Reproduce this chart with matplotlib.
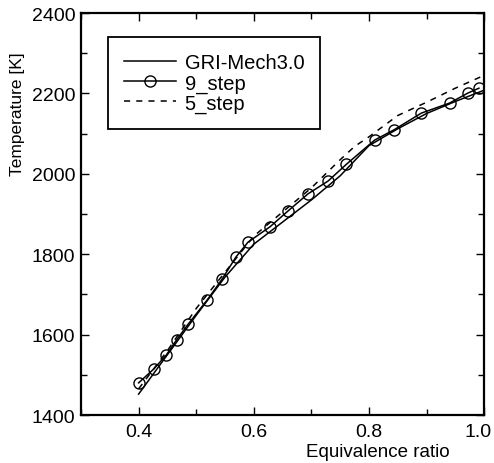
import matplotlib
matplotlib.use("Agg")
import matplotlib.pyplot as plt
from matplotlib.ticker import MultipleLocator
import matplotlib.transforms as mtransforms

plt.rcParams['font.family'] = ['Liberation Sans', 'DejaVu Sans']

# GRI-Mech3.0 (solid line)
phi_gri = [0.40, 0.45, 0.50, 0.55, 0.60, 0.65, 0.70, 0.75, 0.80, 0.85, 0.90, 0.95, 1.00]
T_gri = [1452, 1550, 1648, 1743, 1825, 1880, 1935, 1995, 2070, 2112, 2150, 2180, 2208]

# 9_step (solid line with open circles)
phi_9 = [0.400, 0.426, 0.448, 0.466, 0.486, 0.519, 0.545, 0.569, 0.590, 0.628,
         0.659, 0.694, 0.729, 0.761, 0.810, 0.843, 0.891, 0.940, 0.972, 0.991]
T_9 = [1480, 1514, 1549, 1587, 1626, 1686, 1738, 1793, 1830, 1868,
       1907, 1950, 1982, 2024, 2084, 2109, 2151, 2176, 2201, 2213]

# 5_step (dashed line)
phi_5 = [0.40, 0.45, 0.50, 0.55, 0.60, 0.65, 0.70, 0.75, 0.775, 0.80, 0.85, 0.90, 0.95, 1.00]
T_5 = [1465, 1560, 1665, 1755, 1845, 1905, 1965, 2035, 2068, 2092, 2145, 2178, 2213, 2245]

fig = plt.figure(figsize=(4.94, 4.64), dpi=100)
ax = fig.add_axes([0.164, 0.1034, 0.816, 0.8664])

ax.plot(phi_gri, T_gri, color='black', lw=1.1, label='GRI-Mech3.0')
ax.plot(phi_9, T_9, color='black', lw=1.1, marker='o', markersize=8,
        markerfacecolor='none', markeredgewidth=1.0, label='9_step')
ax.plot(phi_5, T_5, color='black', lw=1.1, ls=(0, (4, 4)), label='5_step')

ax.set_xlim(0.3, 1.0)
ax.set_ylim(1400, 2400)
ax.xaxis.set_minor_locator(MultipleLocator(0.1))
ax.yaxis.set_major_locator(MultipleLocator(200))
ax.yaxis.set_minor_locator(MultipleLocator(100))
ax.set_xticks([0.4, 0.6, 0.8, 1.0])
ax.set_xticklabels(['0.4', '0.6', '0.8', '1.0'])
ax.tick_params(which='both', direction='in', top=True, right=True, labelsize=14,
               width=1.0)
ax.tick_params(which='major', length=6)
ax.tick_params(axis='x', which='major', pad=6)
ax.tick_params(axis='y', which='major', pad=4)
ax.tick_params(which='minor', length=4)
for s in ax.spines.values():
    s.set_linewidth(1.6)

# last x tick label sits against the figure edge; nudge it in a little
last = ax.get_xticklabels()[-1]
last.set_transform(last.get_transform() +
                   mtransforms.ScaledTranslation(-6 / 100, 0, fig.dpi_scale_trans))

ax.set_xlabel('Equivalence ratio', fontsize=13.5)
ax.xaxis.set_label_coords(0.737, -0.07)
ax.set_ylabel('Temperature [K]', fontsize=12.5)
ax.yaxis.set_label_coords(-0.14, 0.75)

leg = ax.legend(loc='upper left', bbox_to_anchor=(0.067, 0.94), fontsize=14.5,
                fancybox=False, framealpha=1, edgecolor='black',
                handlelength=2.6, labelspacing=0.05, borderpad=0.8,
                handletextpad=0.4, borderaxespad=0)
leg.get_frame().set_linewidth(1.3)

fig.savefig('out.png', dpi=100)
